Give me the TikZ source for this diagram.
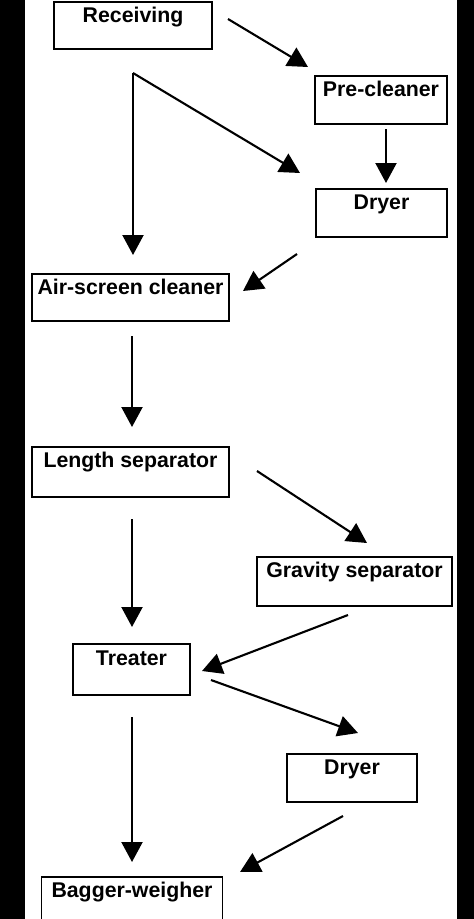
\documentclass[tikz,border=0pt]{standalone}
\usepackage{fontspec}
\setmainfont{Liberation Sans}
\usetikzlibrary{arrows.meta}
\begin{document}
\begin{tikzpicture}[x=1pt,y=-1pt,
  stepbox/.style={draw=black,line width=1.8pt,anchor=north,inner xsep=2pt,inner ysep=0pt,
    text height=21pt,text depth=27pt,font=\fontsize{21.3pt}{24pt}\selectfont\bfseries},
  arr/.style={line width=2.1pt,-{Triangle[length=20pt,width=21pt]}}]
\useasboundingbox (0,0) rectangle (474,919);
\clip (0,0) rectangle (474,919);
\fill[white] (0,0) rectangle (474,919);
\fill[black] (0,0) rectangle (25,919);
\fill[black] (457,0) rectangle (474,919);
% boxes
\node[stepbox,minimum width=158pt,text depth=26pt] (rec) at (133,1) {Receiving};
\node[stepbox,minimum width=132pt] (pre) at (381,75) {Pre-cleaner};
\node[stepbox,minimum width=131pt] (dry1) at (381.5,188) {Dryer};
\node[stepbox,minimum width=197pt,text depth=26pt] (air) at (130.5,273) {Air-screen cleaner};
\node[stepbox,minimum width=197pt,text depth=29pt] (len) at (130.5,446) {Length separator};
\node[stepbox,minimum width=195pt,text depth=28pt] (grav) at (354.5,556) {Gravity separator};
\node[stepbox,minimum width=117pt,text depth=29pt,text height=22pt] (treat) at (131.5,643) {Treater};
\node[stepbox,minimum width=130pt] (dry2) at (352,753) {Dryer};
\node[stepbox,minimum width=181pt] (bag) at (132,876) {Bagger-weigher};
% connector end points
\coordinate (recS) at (228,19);   \coordinate (preT) at (308,67);
\coordinate (br) at (133,73);     \coordinate (airT) at (133,255);
\coordinate (dry1T) at (300,173);
\coordinate (preS) at (386,129);  \coordinate (dry1T2) at (386,183);
\coordinate (dry1S) at (297,254); \coordinate (airT2) at (243,291);
\coordinate (airS) at (132,336);  \coordinate (lenT) at (132,427);
\coordinate (lenS) at (257,471);  \coordinate (gravT) at (367,543);
\coordinate (lenS2) at (132,519); \coordinate (treatT) at (132,627);
\coordinate (gravS) at (348,615); \coordinate (treatT2) at (202,671);
\coordinate (treatS) at (211,680);\coordinate (dry2T) at (358,733);
\coordinate (treatS2) at (132,717);\coordinate (bagT) at (132,862);
\coordinate (dry2S) at (343,816); \coordinate (bagT2) at (240,872);
% connectors
\draw[arr] (recS) -- (preT);
\draw[arr] (br) -- (airT);
\draw[arr] (br) -- (dry1T);
\draw[arr] (preS) -- (dry1T2);
\draw[arr] (dry1S) -- (airT2);
\draw[arr] (airS) -- (lenT);
\draw[arr] (lenS) -- (gravT);
\draw[arr] (lenS2) -- (treatT);
\draw[arr] (gravS) -- (treatT2);
\draw[arr] (treatS) -- (dry2T);
\draw[arr] (treatS2) -- (bagT);
\draw[arr] (dry2S) -- (bagT2);
\end{tikzpicture}
\end{document}
